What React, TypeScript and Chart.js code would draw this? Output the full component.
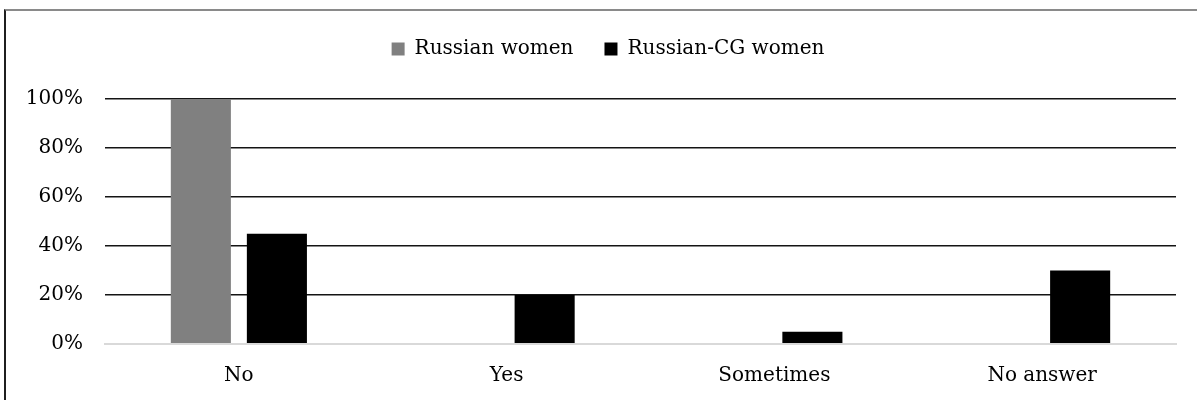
import React, { useEffect, useRef } from "react";
import { Chart, registerables } from "chart.js";

Chart.register(...registerables);

const categories = ["No", "Yes", "Sometimes", "No answer"];
const russianWomen = [100, 0, 0, 0];
const russianCgWomen = [45, 20, 5, 30];
const seriesLabels = ["Russian women", "Russian-CG women"];
const seriesColors = ["#808080", "#000000"];

const FONT = "'DejaVu Serif', serif";

// Adds room under the legend and nudges it to the right of the canvas centre.
const legendPlacement = {
  id: "legendPlacement",
  beforeLayout(chart: any) {
    const lg = chart.legend;
    if (lg && !lg.__spaced) {
      const fit = lg.fit.bind(lg);
      lg.fit = function () {
        fit();
        this.height += 30;
      };
      lg.__spaced = true;
    }
  },
  afterLayout(chart: any) {
    const lg = chart.legend;
    if (lg) {
      lg.left += 20;
      lg.right += 20;
    }
  },
};

export default function App() {
  const canvasRef = useRef<HTMLCanvasElement | null>(null);

  useEffect(() => {
    const canvas = canvasRef.current;
    if (!canvas) return;
    const chart = new Chart(canvas, {
      type: "bar",
      data: {
        labels: categories,
        datasets: [
          {
            label: seriesLabels[0],
            data: russianWomen,
            backgroundColor: seriesColors[0],
            borderWidth: 0,
          },
          {
            label: seriesLabels[1],
            data: russianCgWomen,
            backgroundColor: seriesColors[1],
            borderWidth: 0,
          },
        ],
      },
      options: {
        animation: false,
        responsive: false,
        maintainAspectRatio: false,
        layout: { padding: { top: 8, left: 0, right: 21, bottom: 0 } },
        datasets: {
          bar: { categoryPercentage: 0.568, barPercentage: 0.79 },
        },
        plugins: {
          legend: {
            position: "top",
            labels: {
              font: { family: FONT, size: 20 },
              color: "#000000",
              boxWidth: 13,
              boxHeight: 13,
              padding: 31,
            },
          },
          tooltip: { enabled: false },
        },
        scales: {
          x: {
            grid: { display: false, drawTicks: false },
            border: { display: true, color: "#d9d9d9", width: 2 },
            ticks: {
              font: { family: FONT, size: 20 },
              color: "#000000",
              padding: 20,
              maxRotation: 0,
            },
            afterFit: (scale: any) => {
              scale.height = 56;
            },
          },
          y: {
            min: 0,
            max: 100,
            grid: {
              drawTicks: false,
              color: (ctx: any) => (ctx.tick && ctx.tick.value === 0 ? "#d9d9d9" : "#141414"),
              lineWidth: (ctx: any) => (ctx.tick && ctx.tick.value === 0 ? 2 : 1.5),
            },
            border: { display: false },
            ticks: {
              stepSize: 20,
              font: { family: FONT, size: 20 },
              color: "#000000",
              padding: 22,
              callback: (v: any) => `${v}%`,
            },
            afterFit: (scale: any) => {
              scale.width = 105;
            },
          },
        },
      },
      plugins: [legendPlacement],
    });
    return () => chart.destroy();
  }, []);

  return (
    <div style={{ position: "fixed", left: 0, top: 0, width: 1197, height: 400, background: "#ffffff", overflow: "hidden" }}>
      <div
        style={{
          position: "absolute",
          left: 4,
          top: 9,
          width: 1300,
          height: 500,
          borderTop: "2px solid #8a8a8a",
          borderLeft: "2px solid #1f1f1f",
          boxSizing: "border-box",
        }}
      />
      <canvas ref={canvasRef} width={1197} height={400} style={{ position: "absolute", left: 0, top: 0 }} />
    </div>
  );
}
